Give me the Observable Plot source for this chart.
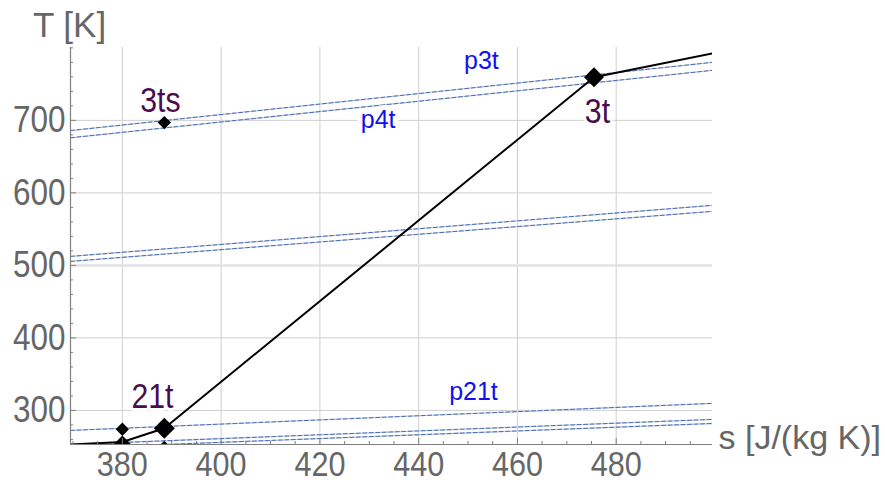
<!DOCTYPE html>
<html><head><meta charset="utf-8">
<script src="https://cdn.jsdelivr.net/npm/d3@7"></script>
<script src="https://cdn.jsdelivr.net/npm/@observablehq/plot@0.6"></script>
<style>
body{margin:0;background:#fff;}
svg{font-family:"Liberation Sans",Arial,sans-serif;}
</style></head><body><div id="chart"></div>
<script>
// ---- data ----
const sDomain = [369.5, 499.5];
const TDomain = [253, 800.5];
const xTicks = [380, 400, 420, 440, 460, 480];
const yTicks = [300, 400, 500, 600, 700];
const xMinor = [370, 375, 385, 390, 395, 405, 410, 415, 425, 430, 435, 445, 450, 455, 465, 470, 475, 485, 490, 495];
const yMinor = [260, 280, 320, 340, 360, 380, 420, 440, 460, 480, 520, 540, 560, 580, 620, 640, 660, 680, 720, 740, 760, 780, 800];

// process path (black line)
const pathS = [369.5, 380, 388.5, 475.5, 499.5];
const pathT = [253, 256.5, 275.5, 759.5, 792.5];

// isobars (dashed), endpoints read at left / right edge
const isoS = [369.5, 499.5];
const isoLeftT  = [686, 676, 512.4, 505.5, 272.4, 253, 248];
const isoRightT = [780, 769, 582.8, 574.5, 309.7, 287.6, 282];

// state markers
const markS = [380, 380, 388.5, 388.5, 388.5, 475.5];
const markT = [274, 253, 275.5, 249, 697, 759.5];
const markR = [6, 8, 9.5, 6, 6, 9];

// state labels
const stateNames = ["3ts", "21t", "3t"];
const stateS = [387.7, 386.1, 476.2];
const stateT = [727.6, 319.3, 712.4];

// isobar labels
const isoNames = ["p3t", "p4t", "p21t"];
const isoLabS = [452.7, 431.8, 451.1];
const isoLabT = [781.4, 700, 326];

const xTitle = "s [J/(kg K)]";
const yTitle = "T [K]";

// ---- build tables ----
const pathRows = pathS.map((s, i) => ({s, T: pathT[i]}));
const isoRows = isoLeftT.flatMap((t, i) => [
  {id: i, s: isoS[0], T: t},
  {id: i, s: isoS[1], T: isoRightT[i]}
]);
const markRows = markS.map((s, i) => ({s, T: markT[i], r: markR[i]}));
const stateRows = stateNames.map((n, i) => ({n, s: stateS[i], T: stateT[i]}));
const isoLabRows = isoNames.map((n, i) => ({n, s: isoLabS[i], T: isoLabT[i]}));

const gray = "#666666";

const chart = Plot.plot({
  width: 885,
  height: 480,
  marginLeft: 70,
  marginRight: 173,
  marginTop: 47,
  marginBottom: 36,
  x: {domain: sDomain, axis: null},
  y: {domain: TDomain, axis: null},
  r: {type: "identity"},
  marks: [
    Plot.ruleX(xTicks, {stroke: "#cfcfcf", strokeWidth: 1}),
    Plot.ruleY(yTicks.filter(d => d !== 500), {stroke: "#cfcfcf", strokeWidth: 1}),
    Plot.ruleY([500], {stroke: "#e2e2e2", strokeWidth: 2.5}),
    Plot.line(isoRows, {x: "s", y: "T", z: "id", stroke: "#c5d2ec", strokeWidth: 1.3, clip: true}),
    Plot.line(isoRows, {x: "s", y: "T", z: "id", stroke: "#4a6bb0", strokeWidth: 1, strokeDasharray: "4,2.5", clip: true}),
    Plot.line(pathRows, {x: "s", y: "T", stroke: "black", strokeWidth: 2, clip: true}),
    Plot.dot(markRows, {x: "s", y: "T", r: "r", symbol: "diamond2", fill: "black", clip: true}),
    // axes
    Plot.ruleY([TDomain[0]], {stroke: "#808080", strokeWidth: 1.2}),
    Plot.ruleX([sDomain[0]], {stroke: "#808080", strokeWidth: 1.2}),
    Plot.ruleX(xTicks, {x: d => d, y1: TDomain[0], y2: TDomain[0], insetTop: -6, stroke: "#808080"}),
    Plot.ruleX(xMinor, {x: d => d, y1: TDomain[0], y2: TDomain[0], insetTop: -3, stroke: "#808080"}),
    Plot.ruleY(yTicks, {y: d => d, x1: sDomain[0], x2: sDomain[0], insetRight: -6, stroke: "#808080"}),
    Plot.ruleY(yMinor, {y: d => d, x1: sDomain[0], x2: sDomain[0], insetRight: -3, stroke: "#808080"}),
    // tick labels (text group 0 and 1)
    Plot.text(xTicks, {x: d => d, frameAnchor: "bottom", lineAnchor: "middle", dy: 20, text: d => String(d), fill: gray, fontSize: 36}),
    Plot.text(yTicks, {y: d => d, frameAnchor: "left", lineAnchor: "middle", dx: -5, textAnchor: "end", text: d => String(d), fill: gray, fontSize: 37}),
    // titles (2, 3)
    Plot.text([yTitle], {frameAnchor: "top-left", lineAnchor: "middle", dx: -1, dy: -22, textAnchor: "middle", fill: gray, fontSize: 35}),
    Plot.text([xTitle], {frameAnchor: "bottom-right", lineAnchor: "middle", dx: 6, dy: -6, textAnchor: "start", fill: gray, fontSize: 34}),
    // labels (4, 5)
    Plot.text(stateRows, {x: "s", y: "T", text: "n", fill: "#4b0c4b", fontSize: 36, stroke: "white", strokeWidth: 6}),
    Plot.text(isoLabRows, {x: "s", y: "T", text: "n", fill: "#1010f0", fontSize: 25, stroke: "white", strokeWidth: 10})
  ]
});
document.getElementById("chart").appendChild(chart);

// condense the tick labels and state labels horizontally around their anchor
const textGroups = d3.select(chart).selectAll('g[aria-label="text"]').nodes();
[[0, 0.85], [1, 0.85], [4, 0.84]].forEach(([gi, k]) => {
  const g = textGroups[gi];
  if (!g) return;
  d3.select(g).selectAll("text").each(function () {
    const ax = +(this.getAttribute("x") || 0);
    const t = this.getAttribute("transform") || "";
    this.setAttribute("transform", `${t} translate(${ax},0) scale(${k},1) translate(${-ax},0)`);
  });
});
</script>
</body></html>
